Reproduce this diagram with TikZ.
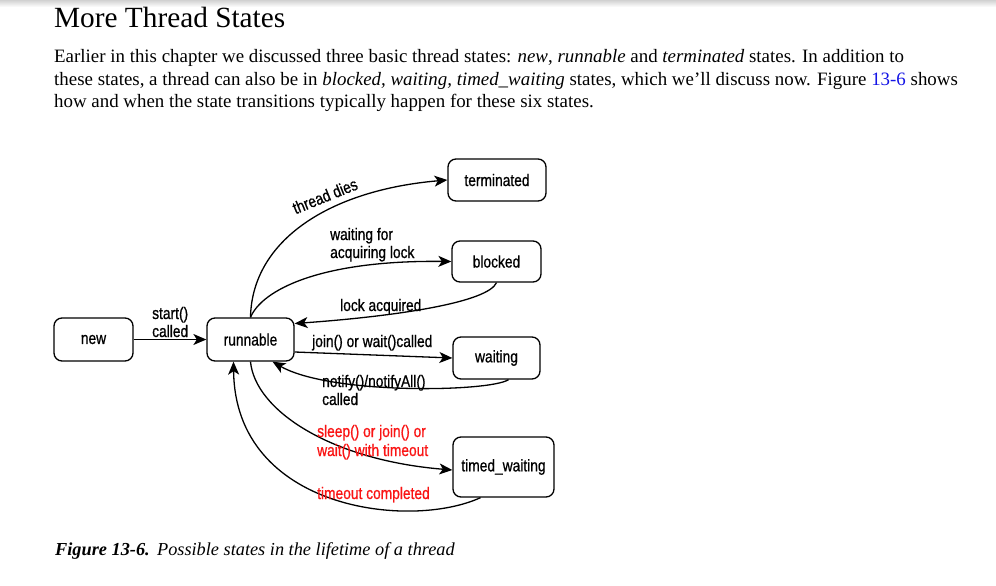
\documentclass[tikz,border=0pt]{standalone}
\usepackage{fontspec}
\setmainfont{Liberation Serif}
\newfontfamily\diagfont[FakeStretch=0.82,FakeBold=0.8]{Liberation Sans}
\usetikzlibrary{arrows.meta}
\definecolor{linkblue}{RGB}{20,20,230}
\definecolor{lblred}{RGB}{250,20,20}
\tikzset{
  state/.style={draw, line width=1.3pt, rounded corners=8pt, inner sep=0pt, font=\diagfont\fontsize{16.8}{18}\selectfont},
  tr/.style={line width=1.3pt, -{Stealth[length=13pt,width=11pt,inset=3.5pt]}},
  lbl/.style={anchor=base west, inner sep=0pt, font=\diagfont\fontsize{16.8}{18}\selectfont},
  redlbl/.style={lbl, text=lblred},
  para/.style={anchor=base west, inner sep=0pt, font=\fontsize{18.9}{21}\selectfont},
}
\begin{document}
\begin{tikzpicture}[x=1pt,y=-1pt]
\useasboundingbox (0,0) rectangle (996,586);
\fill[white] (0,0) rectangle (996,586);
\shade[top color=black!18, bottom color=white] (0,0) rectangle (996,7);

% text
\node[anchor=base west, inner sep=0pt, font=\fontsize{29.3}{32}\selectfont] (title) at (54,28) {More Thread States};
\node[para] (p1) at (54,63) {Earlier in this chapter we discussed three basic thread states: \textit{new}, \textit{runnable} and \textit{terminated} states. In addition to};
\node[para] (p2) at (54,85) {these states, a thread can also be in \textit{blocked, waiting, timed\_waiting} states, which we’ll discuss now. Figure \textcolor{linkblue}{13-6} shows};
\node[para] (p3) at (54,107) {how and when the state transitions typically happen for these six states.};
\node[anchor=base west, inner sep=0pt, font=\fontsize{18.3}{21}\selectfont] (cap) at (55,555) {\textbf{\textit{Figure 13-6.}}\hspace{0.4em}\textit{Possible states in the lifetime of a thread}};

% states
\node[state, minimum width=79pt, minimum height=43pt] (new) at (93.5,339.5) {new};
\node[state, minimum width=87pt, minimum height=43pt] (run) at (250.5,339.5) {runnable};
\node[state, minimum width=98pt, minimum height=42pt] (term) at (497,180) {terminated};
\node[state, minimum width=89pt, minimum height=41pt] (blk) at (496.5,261.5) {blocked};
\node[state, minimum width=87pt, minimum height=42pt] (wait) at (496.5,358) {waiting};
\node[state, minimum width=101pt, minimum height=60pt] (tw) at (503.5,467) {timed\_waiting};

% transitions
\draw[tr] (new.east) -- (run.west);
\draw[tr] (run.north) .. controls (252,240) and (330,190) .. (term.west);
\draw[tr] (run.north) .. controls (262,290) and (320,260) .. (blk.west);
\draw[tr] (blk.south) .. controls (488,302) and (400,316) .. ([yshift=16pt]run.east);
\draw[tr] ([yshift=-12.5pt]run.east) -- (wait.west);
\draw[tr] ([xshift=12pt]wait.south) .. controls (490,392) and (330,395) .. ([xshift=22pt]run.south);
\draw[tr] (run.south) .. controls (255,410) and (330,460) .. ([yshift=-3pt]tw.west);
\draw[tr] ([xshift=-23pt]tw.south) .. controls (410,530) and (235,510) .. ([xshift=-17pt]run.south);

% labels
\node[lbl] (l1a) at (152,319) {start()};
\node[lbl] (l1b) at (152,337) {called};
\node[lbl, anchor=center, rotate=22] (l2) at (325,196) {thread dies};
\node[lbl] (l3a) at (330,240) {waiting for};
\node[lbl] (l3b) at (330,258) {acquiring lock};
\node[lbl] (l4) at (340,311) {lock acquired};
\node[lbl] (l5) at (312,347) {join() or wait()called};
\node[lbl] (l6a) at (322,387) {notify()/notifyAll()};
\node[lbl] (l6b) at (322,405) {called};
\node[redlbl] (l7a) at (317,437) {sleep() or join() or};
\node[redlbl] (l7b) at (317,456) {wait() with timeout};
\node[redlbl] (l8) at (317,499) {timeout completed};
\end{tikzpicture}
\end{document}
